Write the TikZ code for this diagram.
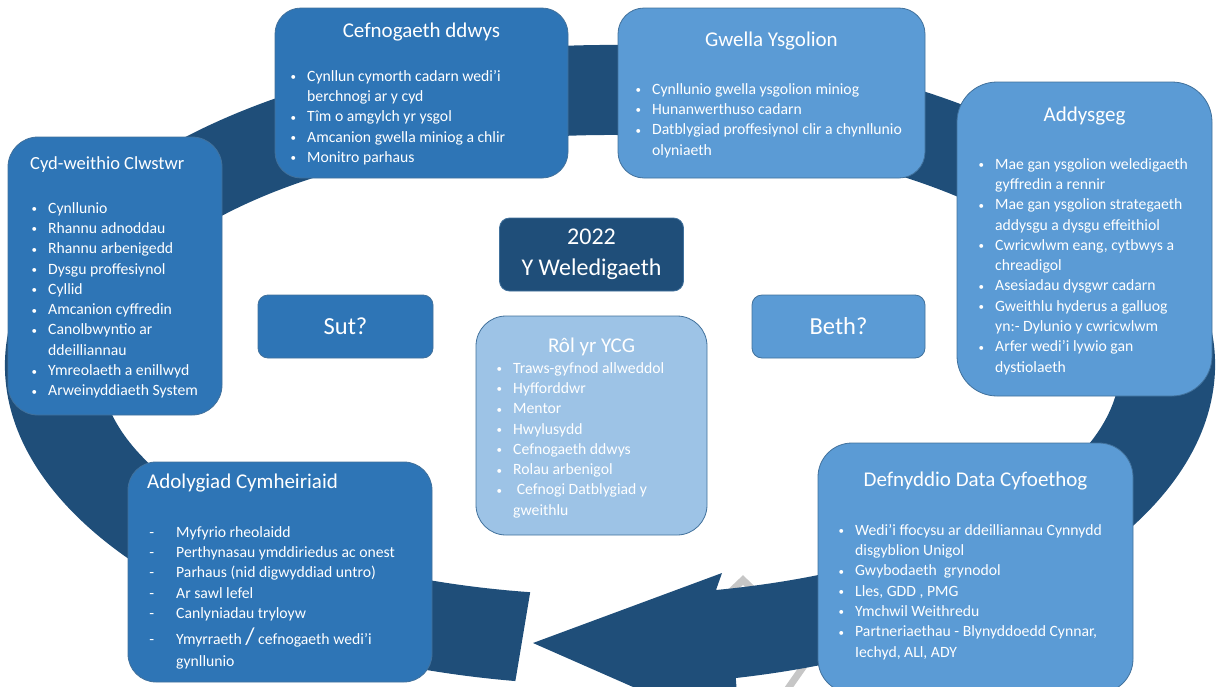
\documentclass[tikz,border=0pt]{standalone}
\usepackage{fontspec}
\usepackage{graphicx}
\setmainfont{Carlito}
\usetikzlibrary{positioning}
\definecolor{ringblue}{HTML}{1F4E79}
\definecolor{midblue}{HTML}{2E75B6}
\definecolor{lightblue}{HTML}{5B9BD5}
\definecolor{paleblue}{HTML}{9DC3E6}
\definecolor{edgeblue}{HTML}{41719C}
\newcommand{\bul}{\llap{\raisebox{0.5pt}{\scalebox{0.7}{\textbullet}}\hspace{11pt}}}
\newcommand{\dsh}{\llap{-\hspace{22pt}}}

\begin{document}
\begin{tikzpicture}[x=1pt,y=-1pt]
\tikzset{card/.style={rectangle,draw=edgeblue,line width=0.8pt,inner sep=0pt},
heading/.style={text=white,inner sep=0pt,font=\fontsize{21}{25}\selectfont},
items/.style={text=white,inner sep=0pt,anchor=north west,align=left,
font=\fontsize{15.7}{20.3}\selectfont},
tag/.style={card,rounded corners=10pt,text=white,font=\fontsize{24.5}{31}\selectfont,
align=center}}
\useasboundingbox (0,0) rectangle (1219,686);
\clip (0,0) rectangle (1219,686);

% grey shape behind the ring
\draw[gray!45,line width=7pt] (722,600)--(743,580)--(815,650)--(780,700);

% the circular arrow
\fill[ringblue] (610,365) ++(99:605 and 320)
  arc[start angle=99,end angle=438,x radius=605,y radius=320]
  -- (740,734) -- (533,643) -- (722,573) -- (716,590)
  arc[start angle=438,end angle=99,x radius=510,y radius=230] -- cycle;

% boxes
\node (cefbox) [card,rounded corners=26pt,fill=midblue,minimum width=293pt,
minimum height=170pt] at (421.5,93) {};
\node (ceftitle) [heading] at (421.5,32) {Cefnogaeth ddwys};
\node (ceflist) [items] at (307,70) {\bul Cynllun cymorth cadarn wedi’i\\
berchnogi ar y cyd\\ \bul Tîm o amgylch yr ysgol\\
\bul Amcanion gwella miniog a chlir\\ \bul Monitro parhaus};

\node (gwebox) [card,rounded corners=26pt,fill=lightblue,minimum width=307pt,
minimum height=170pt] at (771.5,93) {};
\node (gwetitle) [heading] at (771.5,41) {Gwella Ysgolion};
\node (gwelist) [items] at (652,83) {\bul Cynllunio gwella ysgolion miniog\\
\bul Hunanwerthuso cadarn\\ \bul Datblygiad proffesiynol clir a chynllunio\\
olyniaeth};

\node (addbox) [card,rounded corners=40pt,fill=lightblue,minimum width=255pt,
minimum height=314pt] at (1084.5,239) {};
\node (addtitle) [heading] at (1084.5,116) {Addysgeg};
\node (addlist) [items] at (995,158) {\bul Mae gan ysgolion weledigaeth\\
gyffredin a rennir\\ \bul Mae gan ysgolion strategaeth\\
addysgu a dysgu effeithiol\\ \bul Cwricwlwm eang, cytbwys a\\ chreadigol\\
\bul Asesiadau dysgwr cadarn\\ \bul Gweithlu hyderus a galluog\\
yn:- Dylunio y cwricwlwm\\ \bul Arfer wedi'i lywio gan\\ dystiolaeth};

\node (cydbox) [card,rounded corners=30pt,fill=midblue,minimum width=214pt,
minimum height=278pt] at (115,276) {};
\node (cydtitle) [heading,anchor=west,font=\fontsize{18.5}{22}\selectfont]
at (30,165) {Cyd-weithio Clwstwr};
\node (cydlist) [items] at (48,202) {\bul Cynllunio\\ \bul Rhannu adnoddau\\
\bul Rhannu arbenigedd\\ \bul Dysgu proffesiynol\\ \bul Cyllid\\
\bul Amcanion cyffredin\\ \bul Canolbwyntio ar\\ ddeilliannau\\
\bul Ymreolaeth a enillwyd\\ \bul Arweinyddiaeth System};

\node (adobox) [card,rounded corners=28pt,fill=midblue,minimum width=304pt,
minimum height=220pt] at (280,572) {};
\node (adotitle) [heading,anchor=west] at (147,483) {Adolygiad Cymheiriaid};
\node (adolist) [items] at (176,526) {\dsh Myfyrio rheolaidd\\
\dsh Perthynasau ymddiriedus ac onest\\ \dsh Parhaus (nid digwyddiad untro)\\
\dsh Ar sawl lefel\\ \dsh Canlyniadau tryloyw\\[6pt]
\dsh Ymyrraeth {\fontsize{24}{24}\selectfont/} cefnogaeth wedi'i\\[2pt] gynllunio};

\node (defbox) [card,rounded corners=34pt,fill=lightblue,minimum width=315pt,
minimum height=250pt] at (975.5,568) {};
\node (deftitle) [heading] at (975.5,481) {Defnyddio Data Cyfoethog};
\node (deflist) [items] at (855,524) {\bul Wedi’i ffocysu ar ddeilliannau Cynnydd\\
disgyblion Unigol\\ \bul Gwybodaeth\ \ grynodol\\ \bul Lles, GDD , PMG\\
\bul Ymchwil Weithredu\\ \bul Partneriaethau - Blynyddoedd Cynnar,\\
Iechyd, ALl, ADY};

\node (visbox) [tag,fill=ringblue,font=\fontsize{24}{31}\selectfont,
minimum width=184pt,minimum height=73pt] at (591.5,254.5) {2022\\Y Weledigaeth};
\node (sutbox) [tag,fill=midblue,minimum width=175pt,minimum height=63pt]
at (345.5,326.5) {Sut?};
\node (bethbox) [tag,fill=lightblue,minimum width=173pt,minimum height=63pt]
at (838.5,326.5) {Beth?};

\node (rolbox) [card,rounded corners=30pt,fill=paleblue,minimum width=231pt,
minimum height=219pt] at (591.5,425.5) {};
\node (roltitle) [heading] at (591.5,347) {Rôl yr YCG};
\node (rollist) [items] at (513,362) {\bul Traws-gyfnod allweddol\\
\bul Hyfforddwr\\ \bul Mentor\\ \bul Hwylusydd\\ \bul Cefnogaeth ddwys\\
\bul Rolau arbenigol\\ \bul\ Cefnogi Datblygiad y\\ gweithlu};

\end{tikzpicture}
\end{document}
